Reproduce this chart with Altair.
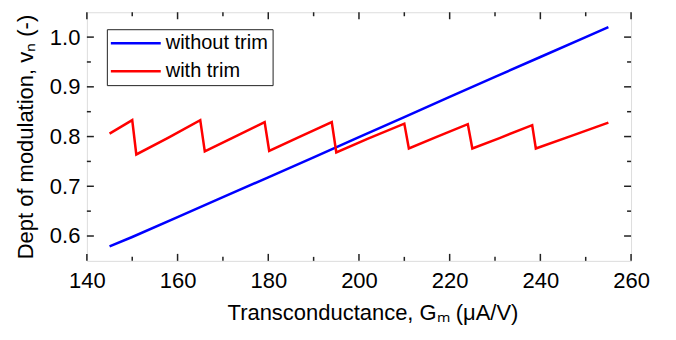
import altair as alt
import pandas as pd

# ---- data ----
gm_without = [145, 150, 160, 170, 180, 190, 200, 210, 220, 230, 240, 250, 255]
v_without = [0.579, 0.598, 0.638, 0.678, 0.718, 0.758, 0.799, 0.839, 0.880, 0.920, 0.960, 1.000, 1.020]

gm_with = [145, 150.0, 150.9, 158, 165.0, 166.0, 172, 179.2, 180.2, 187, 194.0, 195.0, 202,
           210.0, 211.0, 217, 224.0, 225.0, 231, 238.2, 239.0, 247, 255]
v_with = [0.806, 0.833, 0.764, 0.798, 0.833, 0.770, 0.797, 0.829, 0.771, 0.800, 0.829, 0.768, 0.796,
          0.826, 0.776, 0.799, 0.825, 0.776, 0.797, 0.823, 0.776, 0.802, 0.828]

series_names = ["without trim", "with trim"]
series_colors = ["#0000ff", "#ff0000"]

x_major = [140, 160, 180, 200, 220, 240, 260]
x_minor = [150, 170, 190, 210, 230, 250]
y_major = [0.6, 0.7, 0.8, 0.9, 1.0]
y_minor = [0.65, 0.75, 0.85, 0.95]

x_domain = [140, 260]
y_domain = [0.55, 1.05]

x_title = "Transconductance, Gₘ (μA/V)"
y_title = "Dept of modulation, vₙ (-)"

# ---- build ----
W, H = 545, 249
FONT = "Liberation Sans"
FRAME = "#222222"

df = pd.concat([
    pd.DataFrame({"Gm": gm_without, "v": v_without, "series": series_names[0]}),
    pd.DataFrame({"Gm": gm_with, "v": v_with, "series": series_names[1]}),
])

xs = alt.Scale(domain=x_domain, nice=False, zero=False)
ys = alt.Scale(domain=y_domain, nice=False, zero=False)

x_axis = alt.Axis(values=x_major, title=x_title, ticks=False, domain=False, grid=False,
                  labelFlush=False, labelOverlap=False,
                  labelFontSize=22, labelPadding=10, labelFont=FONT, labelColor="black",
                  titleFont=FONT, titleFontSize=22, titleFontWeight="normal", titleColor="black",
                  titlePadding=11, titleX=286)
y_axis = alt.Axis(values=y_major, format=".1f", title=y_title, ticks=False, domain=False,
                  grid=False, labelFlush=False, labelOverlap=False,
                  labelFontSize=22, labelPadding=7, labelFont=FONT, labelColor="black",
                  titleFont=FONT, titleFontSize=22, titleFontWeight="normal", titleColor="black",
                  titlePadding=12)

legend = alt.Legend(title=None, orient="none", legendX=20, legendY=17,
                    symbolType="M-2,0H8", symbolSize=100, symbolStrokeWidth=2.5,
                    labelFont=FONT, labelFontSize=20, labelColor="black", labelOffset=35,
                    rowPadding=8, padding=4, strokeColor=FRAME, fillColor="white")

lines = alt.Chart(df).mark_line(strokeWidth=2.5).encode(
    x=alt.X("Gm:Q", scale=xs, axis=x_axis),
    y=alt.Y("v:Q", scale=ys, axis=y_axis),
    color=alt.Color("series:N", scale=alt.Scale(domain=series_names, range=series_colors),
                    legend=legend, sort=series_names),
)


def xticks(vals, length, top):
    d = pd.DataFrame({"t": vals})
    y0 = 0 if top else H
    y1 = length if top else H - length
    return alt.Chart(d).mark_rule(color=FRAME, strokeWidth=1.5).encode(
        x=alt.X("t:Q", scale=xs, axis=x_axis), y=alt.value(y0), y2=alt.value(y1))


def yticks(vals, length, right):
    d = pd.DataFrame({"t": vals})
    x0 = W if right else 0
    x1 = W - length if right else length
    return alt.Chart(d).mark_rule(color=FRAME, strokeWidth=1.5).encode(
        y=alt.Y("t:Q", scale=ys, axis=y_axis), x=alt.value(x0), x2=alt.value(x1))


ticks = [
    xticks(x_major, 7, False), xticks(x_minor, 4, False),
    xticks(x_major, 7, True), xticks(x_minor, 4, True),
    yticks(y_major, 7, False), yticks(y_minor, 4, False),
    yticks(y_major, 7, True), yticks(y_minor, 4, True),
]

chart = alt.layer(lines, *ticks).properties(
    width=W, height=H,
    autosize=alt.AutoSizeParams(type="none"),
    padding={"left": 79, "top": 4, "right": 37, "bottom": 78},
).configure_view(stroke=FRAME, strokeWidth=1.5).configure(font=FONT)

chart.save("out.html", embed_options={"renderer": "svg", "actions": False})
